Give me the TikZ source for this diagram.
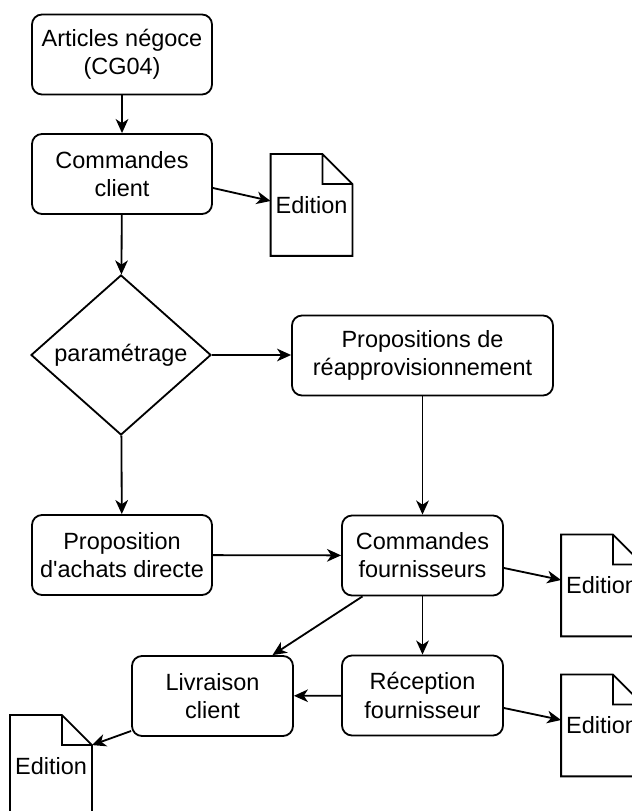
\documentclass[tikz,border=0pt]{standalone}
\usepackage{fontspec}
\setmainfont{Liberation Sans}
\usepackage{tikz}
\usetikzlibrary{arrows.meta}
\usetikzlibrary{shapes.geometric}

\begin{document}
\begin{tikzpicture}[
    font=\fontsize{16.7}{20}\selectfont,
    line width=1.3pt,
    box/.style={draw, rounded corners=0.25cm, align=center, minimum width=4.5cm, minimum height=2cm, inner sep=0pt},
    choice/.style={draw, diamond, aspect=1.125, minimum width=4.5cm, minimum height=4cm, inner sep=0pt},
    doc/.style={minimum width=2cm, minimum height=2.5cm, inner sep=0pt},
    flow/.style={-{Stealth[length=10pt, width=9pt, inset=3pt]}}
  ]
      \clip (0, 0) rectangle (15.8, 20.275);

      \node [box] (art) at (3.05, 18.9125) {Articles négoce\\(CG04)};
      \node [box] (cmdcli) at (3.05, 15.925) {Commandes\\client};
      \node [doc] (ed1) at (7.7875, 15.15) {Edition};
      \node [choice] (param) at (3.025, 11.4) {paramétrage};
      \node [box, minimum width=6.525cm] (reappro) at (10.5625, 11.3875) {Propositions de\\réapprovisionnement};
      \node [box] (propach) at (3.05, 6.4) {Proposition\\d\textquotesingle achats directe};
      \node [box, minimum width=4.025cm] (cmdfour) at (10.5625, 6.3875) {Commandes\\fournisseurs};
      \node [doc] (ed2) at (15.05, 5.6375) {Edition};
      \node [box, minimum width=4.025cm] (livr) at (5.3125, 2.875) {Livraison\\client};
      \node [box, minimum width=4.025cm] (recep) at (10.5625, 2.8875) {Réception\\fournisseur};
      \node [doc] (ed3) at (15.05, 2.1375) {Edition};
      \node [doc] (ed4) at (1.275, 1.125) {Edition};

      % printed documents with folded corner
      \foreach \d in {ed1, ed2, ed3, ed4}
        \draw (\d.north west) -- ([xshift=-0.75cm]\d.north east) -- ([yshift=-0.75cm]\d.north east)
          -- (\d.south east) -- (\d.south west) -- cycle
          ([xshift=-0.75cm]\d.north east) |- ([yshift=-0.75cm]\d.north east);

      \draw [flow] (art) -- (cmdcli);
      \draw [flow] ([yshift=-0.35cm]cmdcli.east) -- ([yshift=0.1cm]ed1.west);
      \draw [flow] (cmdcli) -- (param);
      \draw [flow] (param) -- (param -| reappro.west);
      \draw [flow] (param) -- (propach);
      \draw [flow] (reappro) -- (cmdfour);
      \draw [flow] (propach) -- (cmdfour);
      \draw [flow] ([yshift=-0.3125cm]cmdfour.east) -- ([yshift=0.1375cm]ed2.west);
      \draw [flow] (cmdfour) -- (recep);
      \draw [flow] ([xshift=-1.5cm]cmdfour.south) -- ([xshift=1.5cm]livr.north);
      \draw [flow] (recep) -- (livr);
      \draw [flow] ([yshift=-0.3125cm]recep.east) -- ([yshift=0.1375cm]ed3.west);
      \draw [flow] ([yshift=-0.875cm]livr.west) -- ([yshift=-0.75cm]ed4.north east);
    \end{tikzpicture}
\end{document}
